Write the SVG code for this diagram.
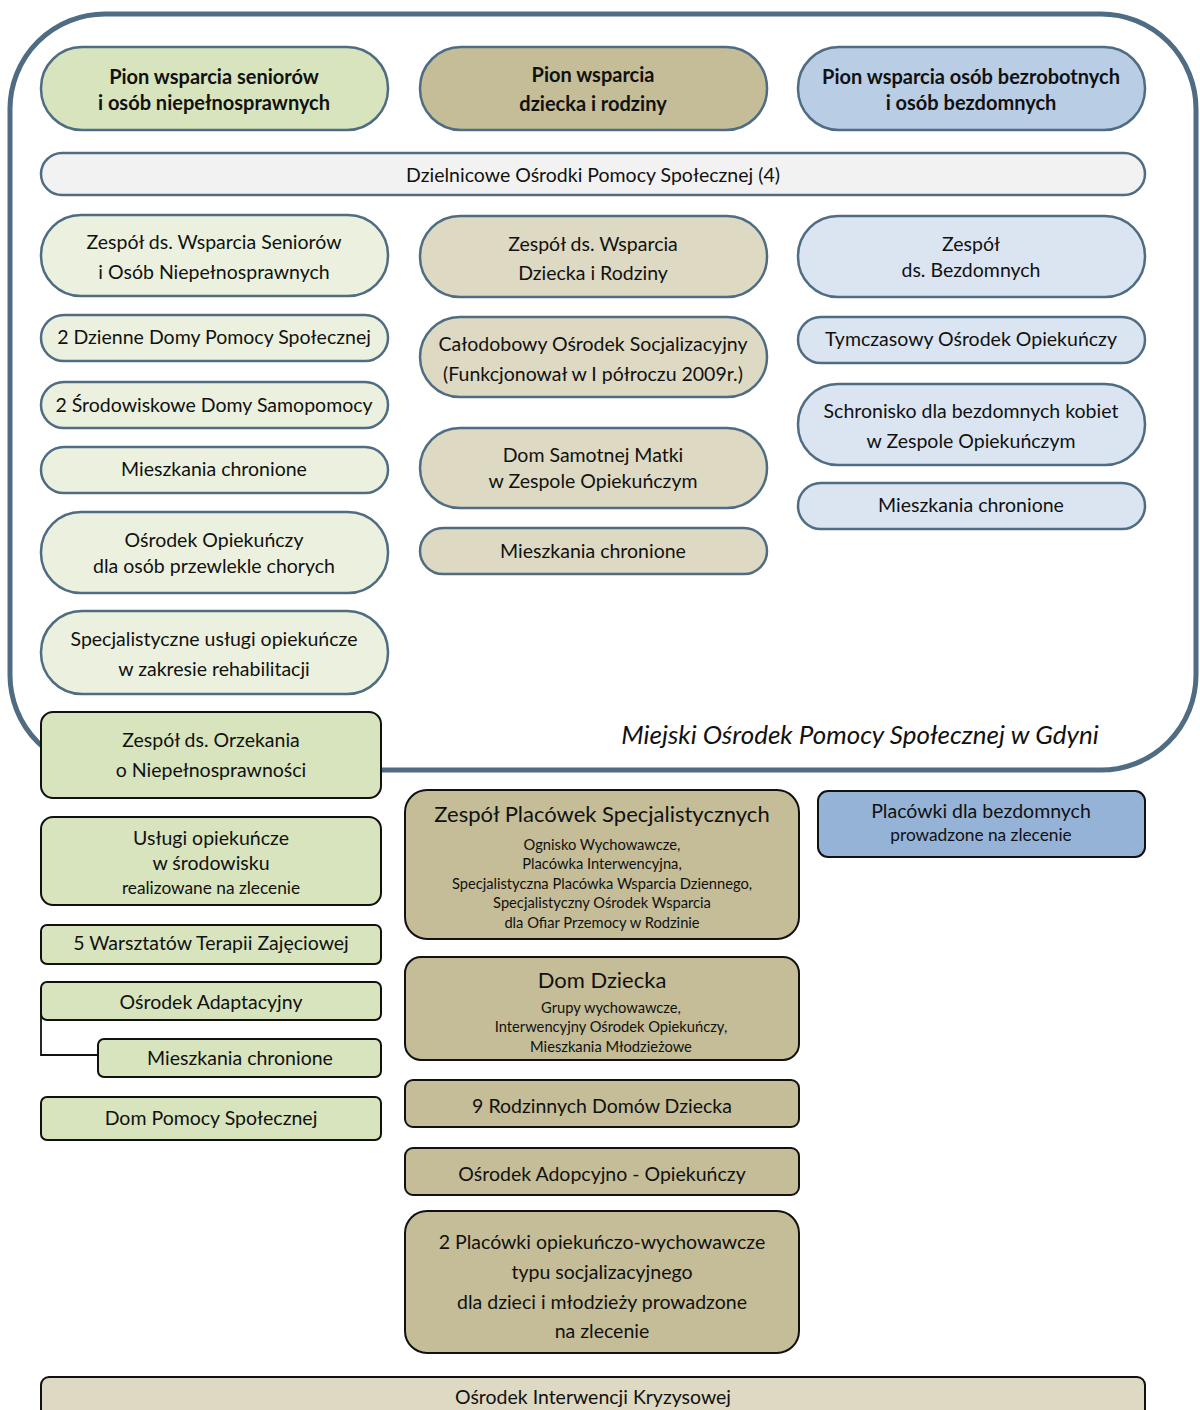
<svg xmlns="http://www.w3.org/2000/svg" width="1200" height="1410" viewBox="0 0 1200 1410">
<style>
text{font-family:Lato,"Open Sans","Liberation Sans",sans-serif;font-size:19.5px;fill:#111;text-anchor:middle;dominant-baseline:central}
.b{font-weight:bold;font-size:20px}
.pill{stroke:#4f6c83;stroke-width:2.5}
.box{stroke:#111;stroke-width:2}
.s{font-size:14.7px}
.m{font-size:17.3px}
.t{font-size:22px}
.g1{fill:#d7e4bd}.g2{fill:#ebf1de}
.k1{fill:#c4bd97}.k2{fill:#ddd9c3}
.u1{fill:#b9cde5}.u2{fill:#dbe5f1}.u3{fill:#95b3d7}
</style>
<rect x="10" y="14" width="1186" height="756" rx="95" fill="#fff" stroke="#4f6c83" stroke-width="5"/>
<g id="h1"><rect class="pill g1" x="41" y="47" width="347" height="83" rx="41"/><text class="b" x="214" y="76">Pion wsparcia seniorów</text><text class="b" x="214" y="102">i osób niepełnosprawnych</text></g>
<g id="h2"><rect class="pill k1" x="420" y="47" width="347" height="83" rx="41"/><text class="b" x="593" y="74">Pion wsparcia</text><text class="b" x="593" y="103">dziecka i rodziny</text></g>
<g id="h3"><rect class="pill u1" x="798" y="47" width="347" height="83" rx="41"/><text class="b" x="971" y="76">Pion wsparcia osób bezrobotnych</text><text class="b" x="971" y="102">i osób bezdomnych</text></g>
<g id="dops"><rect class="pill" fill="#f2f2f2" x="41" y="153" width="1104" height="42" rx="21"/><text x="593" y="174">Dzielnicowe Ośrodki Pomocy Społecznej (4)</text></g>
<g id="l1"><rect class="pill g2" x="41" y="215" width="347" height="81" rx="40"/><text x="214" y="241">Zespół ds. Wsparcia Seniorów</text><text x="214" y="271">i Osób Niepełnosprawnych</text></g>
<g id="l2"><rect class="pill g2" x="41" y="315" width="347" height="46" rx="23"/><text x="214" y="336">2 Dzienne Domy Pomocy Społecznej</text></g>
<g id="l3"><rect class="pill g2" x="41" y="382" width="347" height="46" rx="23"/><text x="214" y="404">2 Środowiskowe Domy Samopomocy</text></g>
<g id="l4"><rect class="pill g2" x="41" y="447" width="347" height="46" rx="23"/><text x="214" y="468">Mieszkania chronione</text></g>
<g id="l5"><rect class="pill g2" x="41" y="512" width="347" height="81" rx="40"/><text x="214" y="539">Ośrodek Opiekuńczy</text><text x="214" y="565">dla osób przewlekle chorych</text></g>
<g id="l6"><rect class="pill g2" x="41" y="611" width="347" height="83" rx="41"/><text x="214" y="638">Specjalistyczne usługi opiekuńcze</text><text x="214" y="668">w zakresie rehabilitacji</text></g>
<g id="c1"><rect class="pill k2" x="420" y="216" width="347" height="81" rx="40"/><text x="593" y="243">Zespół ds. Wsparcia</text><text x="593" y="272">Dziecka i Rodziny</text></g>
<g id="c2"><rect class="pill k2" x="420" y="317" width="347" height="80" rx="40"/><text x="593" y="343">Całodobowy Ośrodek Socjalizacyjny</text><text x="593" y="373">(Funkcjonował w I półroczu 2009r.)</text></g>
<g id="c3"><rect class="pill k2" x="420" y="428" width="347" height="80" rx="40"/><text x="593" y="454">Dom Samotnej Matki</text><text x="593" y="480">w Zespole Opiekuńczym</text></g>
<g id="c4"><rect class="pill k2" x="420" y="528" width="347" height="46" rx="23"/><text x="593" y="550">Mieszkania chronione</text></g>
<g id="r1"><rect class="pill u2" x="798" y="216" width="347" height="81" rx="40"/><text x="971" y="243">Zespół</text><text x="971" y="269">ds. Bezdomnych</text></g>
<g id="r2"><rect class="pill u2" x="798" y="317" width="347" height="46" rx="23"/><text x="971" y="338">Tymczasowy Ośrodek Opiekuńczy</text></g>
<g id="r3"><rect class="pill u2" x="798" y="384" width="347" height="81" rx="40"/><text x="971" y="410">Schronisko dla bezdomnych kobiet</text><text x="971" y="440">w Zespole Opiekuńczym</text></g>
<g id="r4"><rect class="pill u2" x="798" y="483" width="347" height="46" rx="23"/><text x="971" y="504">Mieszkania chronione</text></g>
<text x="860" y="734" style="font-style:italic;font-size:26px">Miejski Ośrodek Pomocy Społecznej w Gdyni</text>
<g id="connectors"><polyline points="41,1008 41,1055 98,1055" fill="none" stroke="#111" stroke-width="1.8"/></g>
<g id="b1"><rect class="box g1" x="41" y="712" width="340" height="86" rx="12"/><text x="211" y="739">Zespół ds. Orzekania</text><text x="211" y="769">o Niepełnosprawności</text></g>
<g id="b2"><rect class="box g1" x="41" y="817" width="340" height="88" rx="12"/><text x="211" y="837">Usługi opiekuńcze</text><text x="211" y="862">w środowisku</text><text class="m" x="211" y="887">realizowane na zlecenie</text></g>
<g id="b3"><rect class="box g1" x="41" y="925" width="340" height="39" rx="6"/><text x="211" y="942">5 Warsztatów Terapii Zajęciowej</text></g>
<g id="b4"><rect class="box g1" x="41" y="982" width="340" height="38" rx="6"/><text x="211" y="1001">Ośrodek Adaptacyjny</text></g>
<g id="b5"><rect class="box g1" x="98" y="1039" width="283" height="38" rx="6"/><text x="240" y="1057">Mieszkania chronione</text></g>
<g id="b6"><rect class="box g1" x="41" y="1097" width="340" height="43" rx="6"/><text x="211" y="1117">Dom Pomocy Społecznej</text></g>
<g id="m1"><rect class="box k1" x="405" y="790" width="394" height="149" rx="22"/><text class="t" x="602" y="813">Zespół Placówek Specjalistycznych</text><text class="s" x="602" y="844">Ognisko Wychowawcze,</text><text class="s" x="602" y="863">Placówka Interwencyjna,</text><text class="s" x="602" y="883">Specjalistyczna Placówka Wsparcia Dziennego,</text><text class="s" x="602" y="902">Specjalistyczny Ośrodek Wsparcia</text><text class="s" x="602" y="922">dla Ofiar Przemocy w Rodzinie</text></g>
<g id="m2"><rect class="box k1" x="405" y="957" width="394" height="103" rx="16"/><text class="t" x="602" y="979">Dom Dziecka</text><text class="s" x="611" y="1007">Grupy wychowawcze,</text><text class="s" x="611" y="1026">Interwencyjny Ośrodek Opiekuńczy,</text><text class="s" x="611" y="1046">Mieszkania Młodzieżowe</text></g>
<g id="m3"><rect class="box k1" x="405" y="1080" width="394" height="47" rx="8"/><text x="602" y="1105">9 Rodzinnych Domów Dziecka</text></g>
<g id="m4"><rect class="box k1" x="405" y="1148" width="394" height="47" rx="8"/><text x="602" y="1173">Ośrodek Adopcyjno - Opiekuńczy</text></g>
<g id="m5"><rect class="box k1" x="405" y="1211" width="394" height="142" rx="22"/><text x="602" y="1241">2 Placówki opiekuńczo-wychowawcze</text><text x="602" y="1271">typu socjalizacyjnego</text><text x="602" y="1301">dla dzieci i młodzieży prowadzone</text><text x="602" y="1330">na zlecenie</text></g>
<g id="p1"><rect class="box u3" x="818" y="791" width="327" height="66" rx="10"/><text x="981" y="810">Placówki dla bezdomnych</text><text class="m" x="981" y="834">prowadzone na zlecenie</text></g>
<g id="oik"><rect class="box k2" x="41" y="1377" width="1104" height="50" rx="8"/><text x="593" y="1396" textLength="276" lengthAdjust="spacingAndGlyphs">Ośrodek Interwencji Kryzysowej</text></g>
</svg>
